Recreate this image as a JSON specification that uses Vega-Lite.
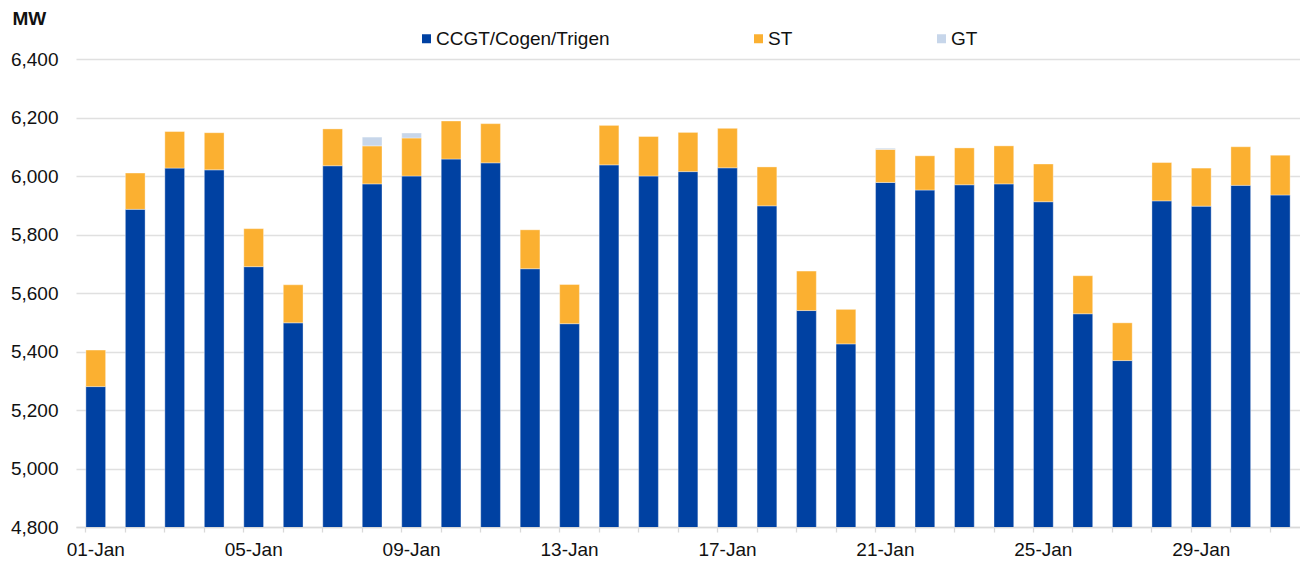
{
 "$schema": "https://vega.github.io/schema/vega-lite/v6.json",
 "width": 1224,
 "height": 468,
 "autosize": {"type": "none"},
 "padding": {"left": 76, "top": 59, "right": 0, "bottom": 36},
 "background": "white",
 "config": {"view": {"stroke": null}, "font": "Liberation Sans"},
 "data": {"values": [
  {"day":"01-Jan","type":"CCGT/Cogen/Trigen","ord":0,"mw":5280},{"day":"01-Jan","type":"ST","ord":1,"mw":125},
  {"day":"02-Jan","type":"CCGT/Cogen/Trigen","ord":0,"mw":5886},{"day":"02-Jan","type":"ST","ord":1,"mw":124},
  {"day":"03-Jan","type":"CCGT/Cogen/Trigen","ord":0,"mw":6027},{"day":"03-Jan","type":"ST","ord":1,"mw":125},
  {"day":"04-Jan","type":"CCGT/Cogen/Trigen","ord":0,"mw":6021},{"day":"04-Jan","type":"ST","ord":1,"mw":127},
  {"day":"05-Jan","type":"CCGT/Cogen/Trigen","ord":0,"mw":5690},{"day":"05-Jan","type":"ST","ord":1,"mw":130},
  {"day":"06-Jan","type":"CCGT/Cogen/Trigen","ord":0,"mw":5498},{"day":"06-Jan","type":"ST","ord":1,"mw":130},
  {"day":"07-Jan","type":"CCGT/Cogen/Trigen","ord":0,"mw":6035},{"day":"07-Jan","type":"ST","ord":1,"mw":126},
  {"day":"08-Jan","type":"CCGT/Cogen/Trigen","ord":0,"mw":5973},{"day":"08-Jan","type":"ST","ord":1,"mw":130},{"day":"08-Jan","type":"GT","ord":2,"mw":30},
  {"day":"09-Jan","type":"CCGT/Cogen/Trigen","ord":0,"mw":6000},{"day":"09-Jan","type":"ST","ord":1,"mw":130},{"day":"09-Jan","type":"GT","ord":2,"mw":17},
  {"day":"10-Jan","type":"CCGT/Cogen/Trigen","ord":0,"mw":6058},{"day":"10-Jan","type":"ST","ord":1,"mw":130},
  {"day":"11-Jan","type":"CCGT/Cogen/Trigen","ord":0,"mw":6045},{"day":"11-Jan","type":"ST","ord":1,"mw":134},
  {"day":"12-Jan","type":"CCGT/Cogen/Trigen","ord":0,"mw":5683},{"day":"12-Jan","type":"ST","ord":1,"mw":133},
  {"day":"13-Jan","type":"CCGT/Cogen/Trigen","ord":0,"mw":5495},{"day":"13-Jan","type":"ST","ord":1,"mw":134},
  {"day":"14-Jan","type":"CCGT/Cogen/Trigen","ord":0,"mw":6038},{"day":"14-Jan","type":"ST","ord":1,"mw":135},
  {"day":"15-Jan","type":"CCGT/Cogen/Trigen","ord":0,"mw":6000},{"day":"15-Jan","type":"ST","ord":1,"mw":135},
  {"day":"16-Jan","type":"CCGT/Cogen/Trigen","ord":0,"mw":6015},{"day":"16-Jan","type":"ST","ord":1,"mw":134},
  {"day":"17-Jan","type":"CCGT/Cogen/Trigen","ord":0,"mw":6028},{"day":"17-Jan","type":"ST","ord":1,"mw":135},
  {"day":"18-Jan","type":"CCGT/Cogen/Trigen","ord":0,"mw":5898},{"day":"18-Jan","type":"ST","ord":1,"mw":133},
  {"day":"19-Jan","type":"CCGT/Cogen/Trigen","ord":0,"mw":5540},{"day":"19-Jan","type":"ST","ord":1,"mw":135},
  {"day":"20-Jan","type":"CCGT/Cogen/Trigen","ord":0,"mw":5426},{"day":"20-Jan","type":"ST","ord":1,"mw":118},
  {"day":"21-Jan","type":"CCGT/Cogen/Trigen","ord":0,"mw":5978},{"day":"21-Jan","type":"ST","ord":1,"mw":113},{"day":"21-Jan","type":"GT","ord":2,"mw":4},
  {"day":"22-Jan","type":"CCGT/Cogen/Trigen","ord":0,"mw":5952},{"day":"22-Jan","type":"ST","ord":1,"mw":117},
  {"day":"23-Jan","type":"CCGT/Cogen/Trigen","ord":0,"mw":5970},{"day":"23-Jan","type":"ST","ord":1,"mw":126},
  {"day":"24-Jan","type":"CCGT/Cogen/Trigen","ord":0,"mw":5973},{"day":"24-Jan","type":"ST","ord":1,"mw":130},
  {"day":"25-Jan","type":"CCGT/Cogen/Trigen","ord":0,"mw":5912},{"day":"25-Jan","type":"ST","ord":1,"mw":129},
  {"day":"26-Jan","type":"CCGT/Cogen/Trigen","ord":0,"mw":5529},{"day":"26-Jan","type":"ST","ord":1,"mw":130},
  {"day":"27-Jan","type":"CCGT/Cogen/Trigen","ord":0,"mw":5369},{"day":"27-Jan","type":"ST","ord":1,"mw":129},
  {"day":"28-Jan","type":"CCGT/Cogen/Trigen","ord":0,"mw":5915},{"day":"28-Jan","type":"ST","ord":1,"mw":131},
  {"day":"29-Jan","type":"CCGT/Cogen/Trigen","ord":0,"mw":5897},{"day":"29-Jan","type":"ST","ord":1,"mw":130},
  {"day":"30-Jan","type":"CCGT/Cogen/Trigen","ord":0,"mw":5968},{"day":"30-Jan","type":"ST","ord":1,"mw":132},
  {"day":"31-Jan","type":"CCGT/Cogen/Trigen","ord":0,"mw":5935},{"day":"31-Jan","type":"ST","ord":1,"mw":136}
 ]},
 "mark": {"type": "bar", "clip": true, "stroke": "white", "strokeWidth": 0.8, "strokeOpacity": 0.45},
 "encoding": {
  "x": {
   "field": "day", "type": "nominal", "sort": null,
   "scale": {"paddingInner": 0.5, "paddingOuter": 0.25},
   "axis": {
    "title": null, "bandPosition": 0, "labelAngle": 0,
    "labelExpr": "toNumber(slice(datum.value,0,2)) % 4 === 1 ? datum.label : ''",
    "labelOverlap": false, "labelFontSize": 19, "labelColor": "#111", "labelPadding": 8,
    "tickSize": 5, "tickColor": "#d9d9d9", "tickWidth": 1.3,
    "domainColor": "#d9d9d9", "domainWidth": 1.5, "grid": false
   }
  },
  "y": {
   "field": "mw", "type": "quantitative", "stack": "zero",
   "scale": {"domain": [4800, 6400], "zero": false, "nice": false},
   "axis": {
    "values": [4800, 5000, 5200, 5400, 5600, 5800, 6000, 6200, 6400],
    "format": ",.0f", "title": "MW", "titleAngle": 0, "titleX": -64, "titleY": -35,
    "titleAlign": "left", "titleBaseline": "alphabetic", "titleFontSize": 19,
    "titleFontWeight": "bold", "titleColor": "#111",
    "labelFontSize": 19, "labelColor": "#111", "labelPadding": 18,
    "ticks": false, "tickSize": 0, "domain": false,
    "gridColor": "#e0e0e0", "gridWidth": 1.3
   }
  },
  "color": {
   "field": "type", "type": "nominal",
   "scale": {"domain": ["CCGT/Cogen/Trigen", "ST", "GT"], "range": ["#0041a2", "#fbb031", "#c7d6ea"]},
   "legend": {
    "title": null, "orient": "none", "legendX": 341, "legendY": -30, "direction": "horizontal",
    "symbolType": "square", "symbolSize": 81, "symbolStrokeWidth": 0,
    "labelFontSize": 19, "labelColor": "#111", "labelLimit": 300,
    "columnPadding": 139, "labelOffset": 0
   }
  },
  "order": {"field": "ord", "type": "quantitative"}
 }
}
